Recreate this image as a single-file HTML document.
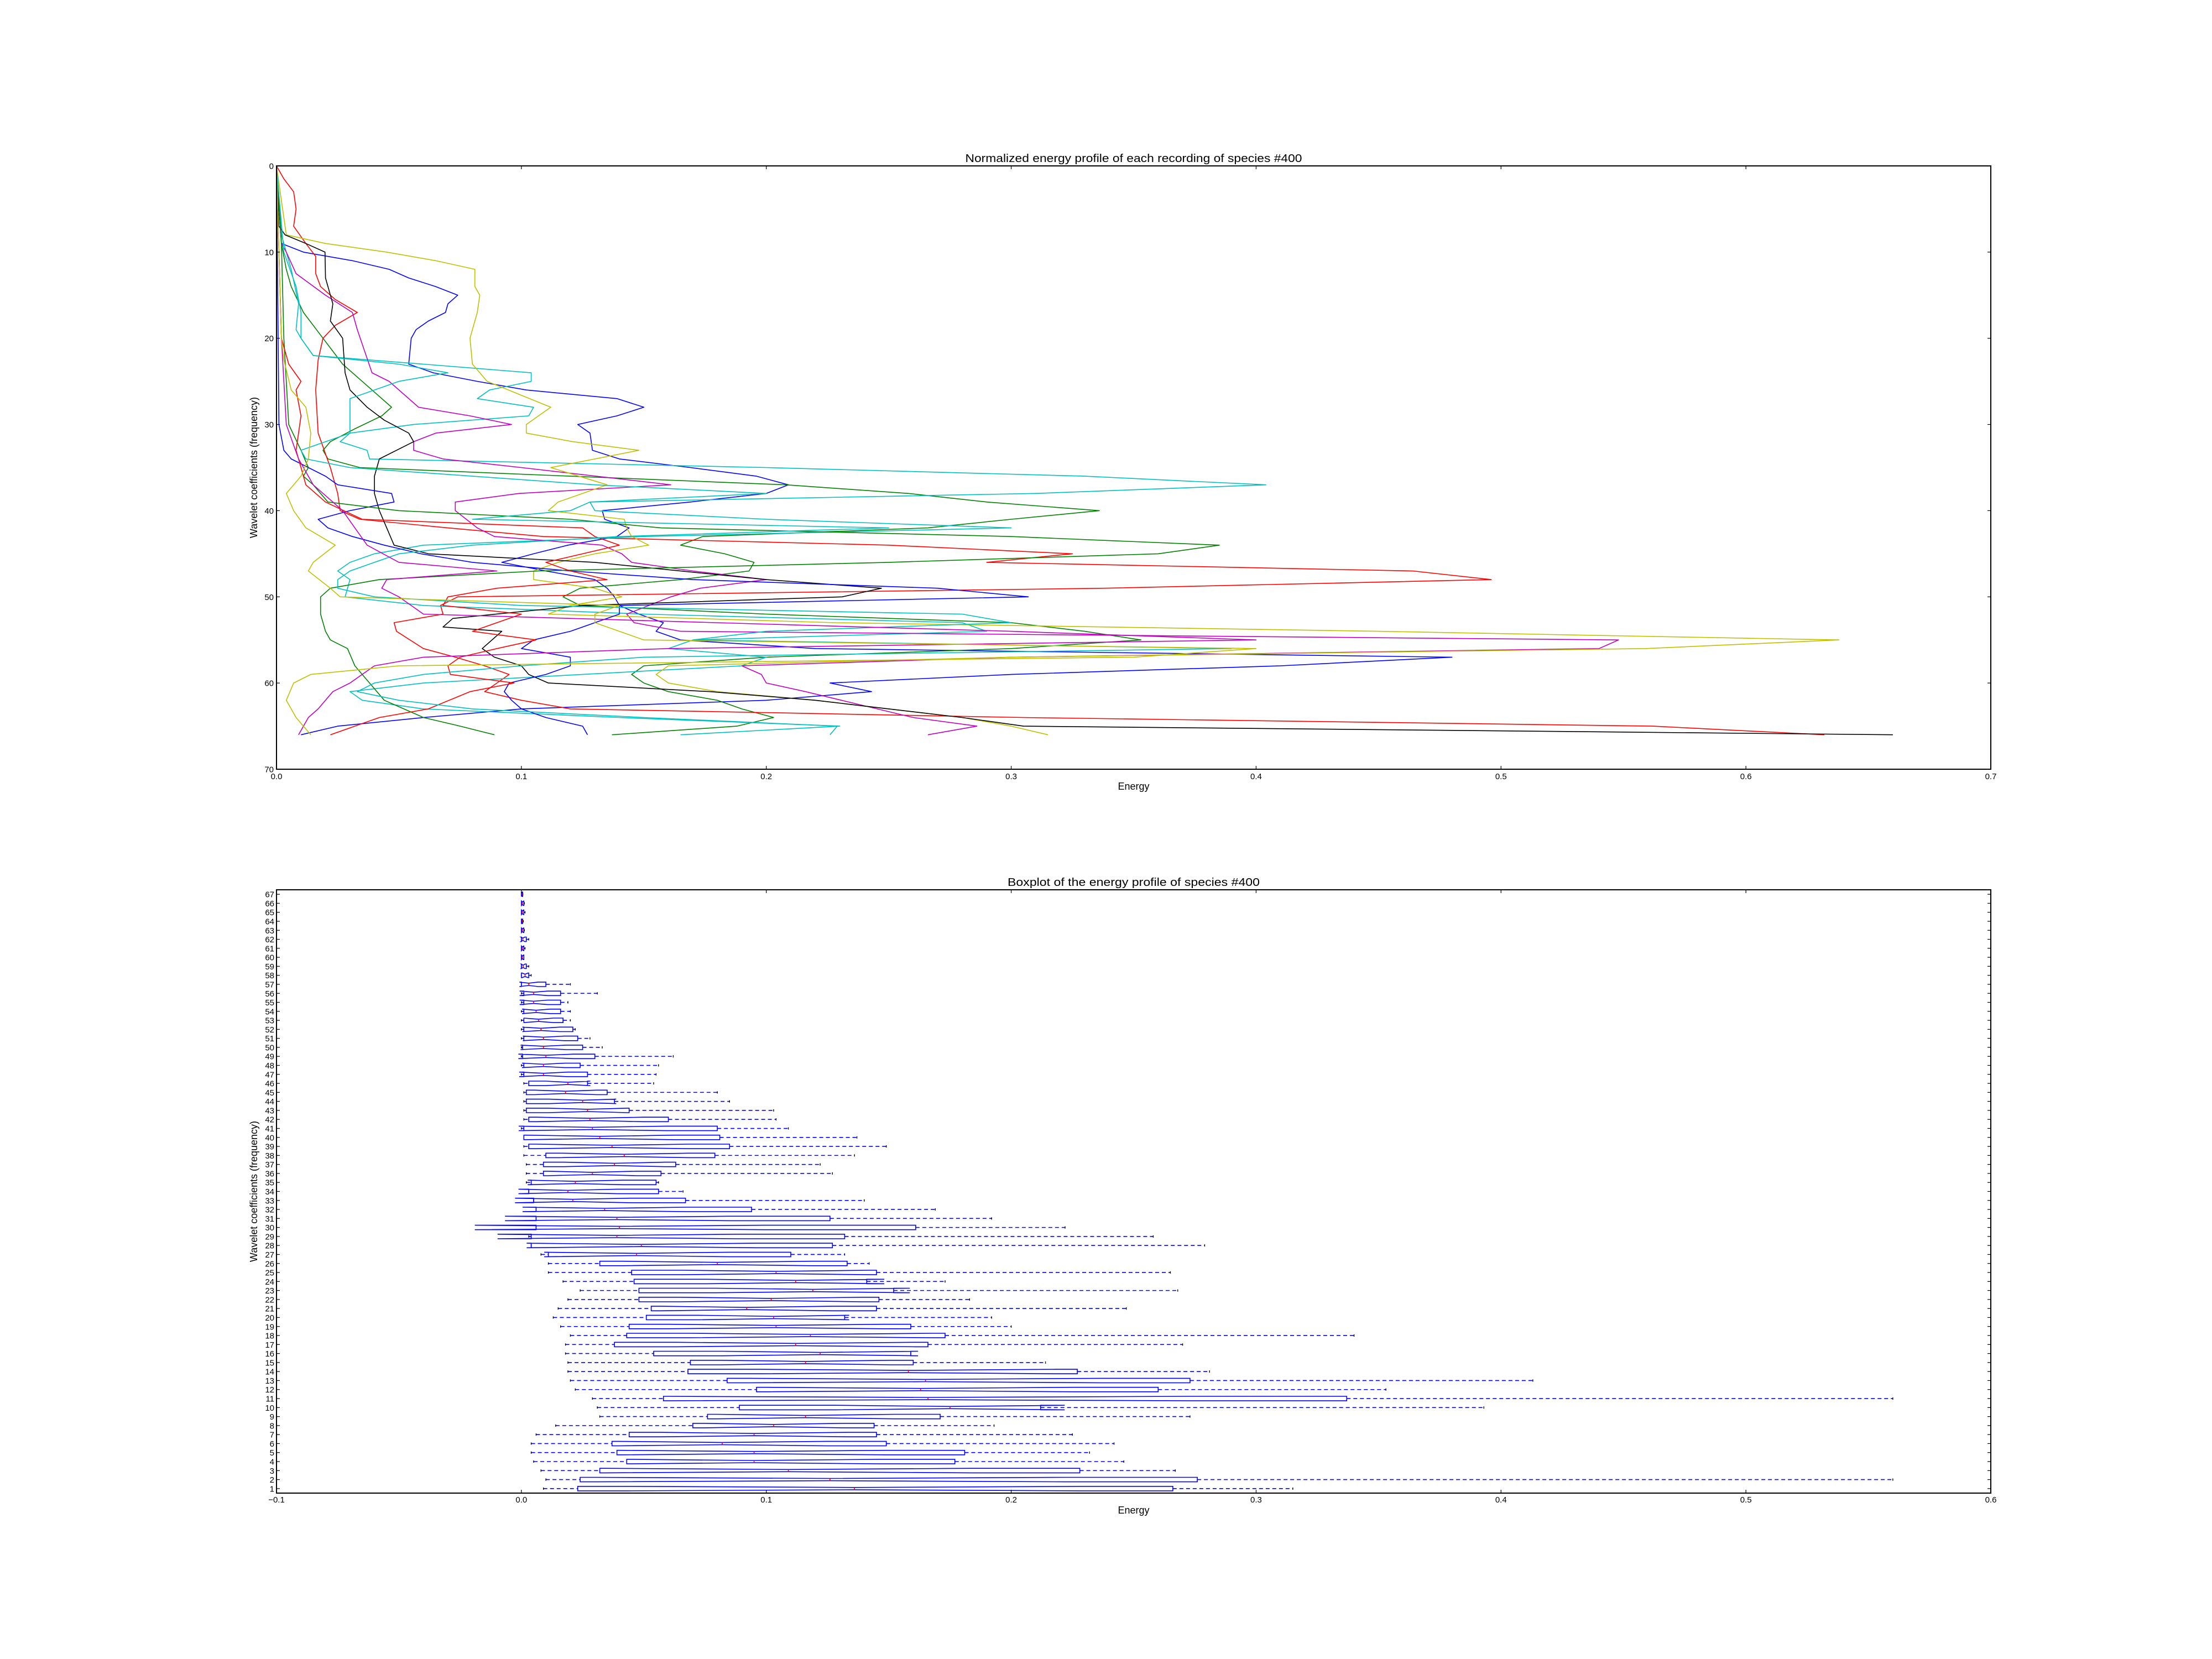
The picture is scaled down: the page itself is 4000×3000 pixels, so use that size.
<!DOCTYPE html>
<html><head><meta charset="utf-8">
<style>
html,body{margin:0;padding:0;background:#fff;}
svg{display:block;}
text{font-family:"Liberation Sans","DejaVu Sans",sans-serif;fill:#000;}
</style></head>
<body>
<svg id="fig" xmlns="http://www.w3.org/2000/svg" width="4000" height="3000" viewBox="0 0 4000 3000">
<rect x="0" y="0" width="4000" height="3000" fill="#fff"/>
<g id="topchart"></g>
<g id="botchart"></g>
</svg>
<script>
// ---------- Top chart data: [coefficient index, energy] ----------
const seriesColors = ["#0000ff","#008000","#ff0000","#00bfbf","#bf00bf","#bfbf00","#000000","#0000ff","#008000","#ff0000","#00bfbf","#bf00bf","#bfbf00"];
const blue1 = [[0,0],[9,.002],[10,.011],[11,.031],[12,.046],[13,.054],[14,.065],[15,.074],[16,.070],[17,.069],[18,.062],[19,.057],[20,.055],[23,.054],[24,.064],[25,.082],[26,.102],[27,.139],[28,.150],[29,.139],[30,.123],[31,.128],[33,.129],[34,.14],[35,.169],[36,.196],[37,.209],[38,.2],[39,.169],[40,.133],[41,.134],[42,.144],[43,.139],[44,.119],[45,.105],[46,.092],[47,.11],[48,.13],[49,.135],[50,.138],[51,.14],[52,.148],[53,.158],[54,.155],[55,.165],[56,.22],[57,.48],[58,.41],[59,.3],[60,.226],[61,.243],[62,.2],[63,.1],[64,.06],[65,.025],[66,.01]];
const green1 = [[0,0],[9,.002],[12,.004],[14,.006],[17,.011],[20,.019],[23,.027],[26,.039],[28,.047],[29,.043],[30.5,.032],[32,.022],[33,.019],[34,.021],[35,.034],[36,.12],[37,.208],[38,.258],[39,.29],[40,.336],[41,.3],[42,.266],[43,.174],[44,.165],[45,.183],[46,.195],[47,.193],[48,.165],[49,.124],[50,.117],[51,.124],[52,.2],[53,.3],[54,.33],[55,.353],[56,.3],[57,.2],[58,.15],[59,.145],[60,.15],[61,.16],[62,.18],[63,.19],[64,.203],[65,.188],[66,.137]];
const red1 = [[0,0],[1.5,.003],[3,.007],[5,.008],[7,.007],[9,.012],[10.5,.016],[12.5,.016],[14,.018],[15.5,.024],[17,.033],[18.5,.024],[20,.019],[22.5,.017],[26,.016],[31,.017],[35,.022],[38,.025],[40,.026],[41,.034],[42,.07],[43,.109],[44,.25],[45,.325],[46,.29],[47,.464],[48,.496],[49,.338],[50,.074],[51,.067],[52,.068],[53,.048],[54,.049],[56,.06],[57,.073],[58,.085],[59,.095],[60,.09],[61,.085],[62,.1],[63,.12],[64,.305],[65,.562],[66,.632]];
const cyan1 = [[0,0],[8,.002],[12,.006],[16,.009],[19,.008],[20,.01],[22,.015],[23,.06],[24,.104],[25,.104],[26,.087],[27,.082],[28,.105],[29,.103],[30,.056],[31,.03],[32,.026],[33,.037],[34,.038],[35,.2],[36,.33],[37,.404],[38,.31],[39,.128],[40,.13],[41,.2],[42,.3],[43,.15],[44,.06],[45,.04],[46,.03],[47,.025],[48,.03],[50,.028],[51,.06],[52,.15],[53,.28],[54,.29],[55,.17],[56,.16],[57,.2],[58,.19],[60,.06],[61,.03],[62,.035],[63,.06],[64,.14],[65,.23],[66,.165]];
const magenta1 = [[0,0],[9,.002],[10,.004],[12.5,.008],[15,.02],[17,.031],[19,.033],[24,.039],[25,.046],[28,.058],[29,.079],[30,.096],[31,.065],[32,.056],[33,.056],[34,.068],[35,.1],[37,.161],[38,.099],[39,.073],[40,.073],[42,.082],[43,.089],[44,.133],[45,.141],[46,.145],[47,.17],[48,.2],[49,.173],[50,.161],[52,.143],[53,.146],[54,.165],[55,.548],[56,.54],[57,.3],[58,.19],[59,.198],[60,.2],[61,.216],[62.5,.238],[64,.26],[65,.286],[66,.266]];
const yellow1 = [[0,0],[8,.004],[9,.02],[10,.045],[11,.065],[12,.081],[14,.081],[15,.083],[17,.082],[20,.079],[23,.08],[25,.086],[28,.112],[30,.102],[31,.102],[32,.121],[33,.148],[35,.112],[37,.135],[39,.115],[40,.111],[41,.142],[42,.143],[43,.145],[44,.152],[45,.13],[46,.115],[47,.105],[48,.105],[49,.13],[50,.141],[51,.12],[52,.111],[53,.228],[54,.45],[55,.638],[56,.559],[57,.3],[58,.16],[59,.155],[60,.16],[61,.18],[62,.22],[63,.25],[64,.28],[65,.3],[66,.315]];
const black1 = [[0,0],[7,.001],[8,.0035],[9,.012],[10,.0198],[13,.02],[16,.023],[18,.022],[20,.027],[24,.028],[26,.03],[28,.037],[29.5,.044],[31,.054],[32,.056],[34,.042],[36,.04],[38,.04],[40,.042],[42,.045],[44,.048],[45,.062],[46,.13],[48,.2],[49,.247],[50,.231],[51,.125],[52.5,.072],[53.5,.068],[54,.092],[56,.084],[57,.089],[58,.1],[59,.103],[60,.111],[61,.177],[62,.22],[63,.25],[64,.28],[65,.305],[66,.66]];
const blue2 = [[0,0],[30,.001],[33,.003],[34,.006],[35,.013],[36,.02],[37,.025],[38,.047],[39,.048],[40,.03],[41,.017],[42,.021],[43,.031],[44,.044],[45,.059],[46,.08],[47,.12],[48,.17],[49,.27],[50,.307],[51,.14],[52,.14],[53,.13],[54,.12],[55,.105],[56,.1],[57,.12],[58,.12],[59,.11],[60,.095],[61,.093],[62,.096],[63,.1],[64,.11],[65,.125],[66,.127]];
const green2 = [[0,0],[9,.002],[20,.003],[30,.005],[33,.01],[35,.013],[36,.011],[37,.015],[38,.018],[39,.021],[40,.05],[41,.12],[42,.157],[43,.3],[44,.385],[45,.36],[46,.25],[47,.107],[48,.042],[49,.022],[50,.018],[52,.018],[54,.02],[55,.022],[56,.029],[58,.032],[60,.038],[62,.044],[64,.06],[65,.075],[66,.089]];
const red2 = [[0,0],[20,.002],[23,.005],[25,.01],[26,.008],[29,.01],[33,.008],[35,.01],[37,.012],[39,.02],[41,.035],[42,.125],[43,.13],[44,.14],[45,.125],[46,.11],[47,.12],[48,.135],[49,.09],[50,.07],[51,.068],[52,.1],[53,.09],[54,.08],[55,.106],[56,.09],[57,.075],[58,.07],[59,.071],[60,.097],[61,.079],[63,.062],[64,.042],[66,.022]];
const cyan2 = [[0,0],[10,.003],[14,.008],[17,.01],[20,.01],[22,.015],[23,.05],[24,.07],[25,.05],[27,.03],[29,.03],[31,.03],[33,.01],[34,.012],[35,.03],[36,.08],[37,.13],[38,.2],[39,.128],[40,.12],[41,.08],[42,.25],[43,.14],[44,.08],[45,.05],[46,.04],[47,.03],[48,.025],[49,.025],[50,.04],[51,.1],[52,.28],[53,.3],[54,.2],[55,.17],[56,.39],[57,.15],[58,.1],[59,.06],[60,.04],[61,.033],[62,.05],[63,.08],[64,.15],[65,.229],[66,.226]];
const magenta2 = [[0,0],[20,.002],[30,.004],[34,.009],[37,.015],[40,.027],[42,.032],[44,.037],[46,.05],[47,.09],[48,.045],[49,.043],[50,.05],[51,.055],[52,.06],[54,.3],[55,.4],[56,.16],[57,.06],[58,.04],[60,.03],[61,.023],[63,.017],[64,.013],[66,.009]];
const yellow2 = [[0,0],[20,.002],[22.5,.003],[26,.006],[28,.012],[31,.014],[34,.013],[36,.01],[38,.004],[40,.007],[42,.012],[44,.024],[46,.015],[47,.013],[49,.022],[50,.026],[51,.14],[52,.13],[53,.13],[54,.14],[55,.15],[56,.4],[57,.35],[58,.05],[59,.014],[60,.007],[62,.004],[64,.008],[66,.014]];
const allSeries = [blue1,green1,red1,cyan1,magenta1,yellow1,black1,blue2,green2,red2,cyan2,magenta2,yellow2];
const topXTicks = [0,0.1,0.2,0.3,0.4,0.5,0.6,0.7];
const topXTickLabels = ["0.0","0.1","0.2","0.3","0.4","0.5","0.6","0.7"];
const topYTicks = [0,10,20,30,40,50,60,70];

// ---------- Boxplot data (rows 1..67) ----------
const boxWhiskerLo = [.009,.010,.008,.005,.004,.004,.006,.014,.032,.031,.029,.022,.020,.019,.019,.018,.018,.020,.016,.013,.015,.019,.024,.017,.011,.011,.008,.004,.003,.006,.006,.006,.005,.003,.002,.002,.002,.001,.001,.001,0,.001,.001,.001,.001,.001,0,0,0,0,0,0,0,0,0,0,0,0,0,0,0,0,0,0,0,0,0];
const boxQ1 = [.023,.024,.032,.043,.039,.037,.044,.070,.076,.089,.058,.096,.084,.068,.069,.054,.038,.043,.044,.051,.053,.048,.048,.046,.045,.032,.011,.004,.004,.006,.006,.006,.005,.003,.004,.009,.009,.010,.003,.001,.001,.003,.002,.002,.002,.003,.001,.001,.0005,.0005,.001,.001,.001,.001,.001,.001,0,0,0,0,0,0,0,0,0,0,0];
const boxMedian = [.136,.126,.109,.095,.095,.082,.095,.103,.116,.175,.166,.163,.165,.158,.116,.122,.112,.118,.104,.103,.092,.102,.119,.112,.104,.080,.047,.049,.039,.040,.039,.034,.021,.019,.022,.029,.038,.042,.037,.032,.029,.028,.027,.025,.018,.019,.009,.009,.010,.009,.009,.008,.007,.006,.005,.005,.003,.0015,.0007,.0004,.0004,.0006,.0004,.0003,.0004,.0004,.0002];
const boxQ3 = [.266,.276,.228,.177,.181,.149,.145,.144,.171,.212,.337,.260,.273,.227,.160,.159,.166,.173,.159,.132,.145,.146,.152,.141,.145,.133,.110,.127,.132,.161,.126,.094,.067,.056,.055,.057,.063,.079,.085,.081,.080,.060,.044,.038,.035,.027,.027,.024,.030,.025,.023,.021,.017,.016,.016,.016,.010,.003,.002,.001,.001,.002,.001,.0005,.001,.001,.0005];
const boxWhiskerHi = [.315,.56,.267,.246,.232,.242,.225,.193,.273,.393,.56,.353,.413,.281,.214,.159,.270,.340,.200,.192,.247,.183,.268,.173,.265,.142,.132,.279,.258,.222,.192,.169,.140,.066,.056,.127,.122,.136,.149,.137,.109,.104,.103,.085,.080,.054,.055,.056,.062,.033,.028,.022,.020,.020,.019,.031,.020,.004,.003,.001,.0015,.003,.0012,.0008,.0015,.0012,.0006];
const sampleCount = 17;
const botXTicks = [-0.1,0,0.1,0.2,0.3,0.4,0.5,0.6];
const botXTickLabels = ["\u22120.1","0.0","0.1","0.2","0.3","0.4","0.5","0.6"];

const NS = "http://www.w3.org/2000/svg";
function mk(parent, tag, attrs, text){
  const el = document.createElementNS(NS, tag);
  for (const k in attrs) el.setAttribute(k, attrs[k]);
  if (text !== undefined) el.textContent = text;
  parent.appendChild(el);
  return el;
}

// ---------- Top chart ----------
const T = {x0:500, x1:3600, y0:300, y1:1391};
const tx = v => T.x0 + (v - 0) / 0.7 * (T.x1 - T.x0);
const ty = v => T.y0 + (v - 0) / 70 * (T.y1 - T.y0);
const topG = document.getElementById("topchart");

const topPlot = mk(topG, "g", {});


allSeries.forEach((s, i) => {
  const pts = s.map(p => tx(p[1]).toFixed(1) + "," + ty(p[0]).toFixed(1)).join(" ");
  const pl = mk(topPlot, "polyline", {points: pts, fill: "none", stroke: seriesColors[i], "stroke-width": 1.6, "stroke-linejoin": "round"});
  
  
});

const topFrame = mk(topG, "rect", {x: T.x0, y: T.y0, width: T.x1 - T.x0, height: T.y1 - T.y0, fill: "none", stroke: "#000", "stroke-width": 2});



topXTicks.forEach((v, i) => {
  const x = tx(v);
  mk(topG, "line", {x1: x, x2: x, y1: T.y1, y2: T.y1 - 6, stroke: "#000", "stroke-width": 1.2});
  mk(topG, "line", {x1: x, x2: x, y1: T.y0, y2: T.y0 + 6, stroke: "#000", "stroke-width": 1.2});
  const t = mk(topG, "text", {x: x, y: T.y1 + 18, "font-size": 15, "text-anchor": "middle"}, topXTickLabels[i]);
  
  
});
topYTicks.forEach(v => {
  const y = ty(v);
  mk(topG, "line", {x1: T.x0, x2: T.x0 + 6, y1: y, y2: y, stroke: "#000", "stroke-width": 1.2});
  mk(topG, "line", {x1: T.x1, x2: T.x1 - 6, y1: y, y2: y, stroke: "#000", "stroke-width": 1.2});
  const t = mk(topG, "text", {x: T.x0 - 5, y: y + 5.5, "font-size": 15, "text-anchor": "end"}, String(v));
  
  
});
const tTitle = mk(topG, "text", {x: (T.x0 + T.x1) / 2, y: T.y0 - 7, "font-size": 20, "text-anchor": "middle", textLength: 609, lengthAdjust: "spacingAndGlyphs"}, "Normalized energy profile of each recording of species #400");


const tXL = mk(topG, "text", {x: (T.x0 + T.x1) / 2, y: T.y1 + 37, "font-size": 18, "text-anchor": "middle"}, "Energy");


const tYL = mk(topG, "text", {x: 0, y: 0, "font-size": 18, "text-anchor": "middle", transform: "translate(465," + ((T.y0 + T.y1) / 2) + ") rotate(-90)"}, "Wavelet coefficients (frequency)");



// ---------- Bottom boxplot ----------
const B = {x0:500, x1:3600, y0:1609, y1:2700};
const bx = v => B.x0 + (v + 0.1) / 0.7 * (B.x1 - B.x0);
const by = r => B.y1 - (r - 0.5) / 67 * (B.y1 - B.y0);
const botG = document.getElementById("botchart");
const rowH = (B.y1 - B.y0) / 67;
const hw = 0.25 * rowH, qw = 0.125 * rowH;

const boxes = mk(botG, "g", {});


boxQ1.forEach((q1, i) => {
  const r = i + 1, y = by(r);
  const q3 = boxQ3[i], med = boxMedian[i];
  const half = 1.57 * (q3 - q1) / Math.sqrt(sampleCount);
  const nlo = med - half, nhi = med + half;
  const g = mk(boxes, "g", {});
  
  
  mk(g, "line", {x1: bx(boxWhiskerLo[i]), x2: bx(q1), y1: y, y2: y, stroke: "#0000ff", "stroke-width": 1.6, "stroke-dasharray": "7,5"});
  mk(g, "line", {x1: bx(q3), x2: bx(boxWhiskerHi[i]), y1: y, y2: y, stroke: "#0000ff", "stroke-width": 1.6, "stroke-dasharray": "7,5"});
  mk(g, "line", {x1: bx(boxWhiskerLo[i]), x2: bx(boxWhiskerLo[i]), y1: y - qw, y2: y + qw, stroke: "#000", "stroke-width": 1.4});
  mk(g, "line", {x1: bx(boxWhiskerHi[i]), x2: bx(boxWhiskerHi[i]), y1: y - qw, y2: y + qw, stroke: "#000", "stroke-width": 1.4});
  const pts = [[q1, y - hw],[nlo, y - hw],[med, y - qw],[nhi, y - hw],[q3, y - hw],[q3, y + hw],[nhi, y + hw],[med, y + qw],[nlo, y + hw],[q1, y + hw]]
    .map(p => bx(p[0]).toFixed(1) + "," + p[1].toFixed(1)).join(" ");
  mk(g, "polygon", {points: pts, fill: "none", stroke: "#0000ff", "stroke-width": 1.6});
  mk(g, "line", {x1: bx(med), x2: bx(med), y1: y - qw, y2: y + qw, stroke: "#ff0000", "stroke-width": 1.6});
});

const botFrame = mk(botG, "rect", {x: B.x0, y: B.y0, width: B.x1 - B.x0, height: B.y1 - B.y0, fill: "none", stroke: "#000", "stroke-width": 2});



botXTicks.forEach((v, i) => {
  const x = bx(v);
  mk(botG, "line", {x1: x, x2: x, y1: B.y1, y2: B.y1 - 6, stroke: "#000", "stroke-width": 1.2});
  mk(botG, "line", {x1: x, x2: x, y1: B.y0, y2: B.y0 + 6, stroke: "#000", "stroke-width": 1.2});
  const t = mk(botG, "text", {x: x, y: B.y1 + 17, "font-size": 15, "text-anchor": "middle"}, botXTickLabels[i]);
  
  
});
boxQ1.forEach((q, i) => {
  const r = i + 1, y = by(r);
  mk(botG, "line", {x1: B.x0, x2: B.x0 + 6, y1: y, y2: y, stroke: "#000", "stroke-width": 1.2});
  mk(botG, "line", {x1: B.x1, x2: B.x1 - 6, y1: y, y2: y, stroke: "#000", "stroke-width": 1.2});
  const t = mk(botG, "text", {x: B.x0 - 4, y: y + 5.5, "font-size": 15, "text-anchor": "end"}, String(r));
  
  
});
const bTitle = mk(botG, "text", {x: (B.x0 + B.x1) / 2, y: B.y0 - 7, "font-size": 20, "text-anchor": "middle", textLength: 456, lengthAdjust: "spacingAndGlyphs"}, "Boxplot of the energy profile of species #400");


const bXL = mk(botG, "text", {x: (B.x0 + B.x1) / 2, y: B.y1 + 37, "font-size": 18, "text-anchor": "middle"}, "Energy");


const bYL = mk(botG, "text", {x: 0, y: 0, "font-size": 18, "text-anchor": "middle", transform: "translate(465," + ((B.y0 + B.y1) / 2) + ") rotate(-90)"}, "Wavelet coefficients (frequency)");


</script>
</body></html>
